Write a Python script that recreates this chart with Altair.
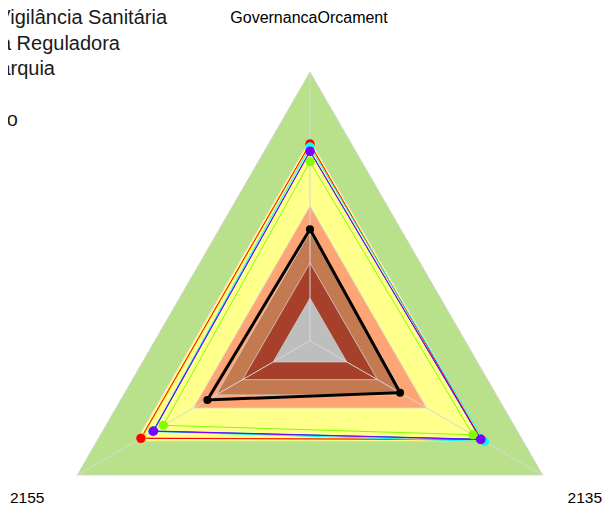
import altair as alt
import pandas as pd
import numpy as np

# ---------------- data ----------------
axis_labels = ["GovernancaOrcament", "2135", "2155"]
axis_angles = [90, -30, 210]          # degrees, top / bottom-right / bottom-left

band_levels = [100, 75, 50, 40.4, 29, 15.8]
band_colors = ["#B9E18C", "#FFFF8C", "#FFA474", "#C47A50", "#A6402B", "#BEBEBE"]

# drawing order (first drawn = bottom)
series_names = ["s_orange", "s_red", "s_green", "s_cyan", "s_blue", "s_purple"]
series_colors = ["#FFBF00", "#FF0000", "#80FF00", "#00FFFF", "#0040FF", "#8000FF"]
# values for [GovernancaOrcament, 2135, 2155]
v_gov = [73.0, 73.3, 66.6, 72.1, 70.4, 70.6]
v_2135 = [74.0, 73.5, 70.0, 75.0, 73.3, 73.5]
v_2155 = [72.2, 72.7, 63.0, 67.6, 67.2, 67.4]

ref_name = "Referência"
ref_values = [41.5, 38.7, 44.1]

legend_texts = ["Agência Nacional de Vigilância Sanitária", "Agência Reguladora",
                "Autarquia", "Fundação", "Poder Executivo"]

# ---------------- geometry ----------------
W, H = 595, 498
R_PX = 268.7
CX, CY = 302.0, 332.7
x_dom = [-CX / R_PX * 100, (W - CX) / R_PX * 100]
y_dom = [-(H - CY) / R_PX * 100, CY / R_PX * 100]
xs = alt.Scale(domain=x_dom, nice=False, zero=False)
ys = alt.Scale(domain=y_dom, nice=False, zero=False)
ang = np.radians(axis_angles)
FONT = "Liberation Sans"


def pt(r, a):
    return r * np.cos(a), r * np.sin(a)


def px_to_data(px, py):
    return (px - 8 - CX) / R_PX * 100, (CY - (py - 8)) / R_PX * 100


X = lambda: alt.X("x:Q", scale=xs, axis=None)
Y = lambda: alt.Y("y:Q", scale=ys, axis=None)

layers = []

# background bands (triangles drawn as areas)
for lvl, col in zip(band_levels, band_colors):
    pts = [pt(lvl, a) for a in ang]
    df = pd.DataFrame({"x": [p[0] for p in pts], "y": [p[1] for p in pts]})
    df["y2"] = -lvl / 2
    layers.append(
        alt.Chart(df).mark_area(color=col, orient="vertical", opacity=1).encode(
            x=X(), y=Y(), y2="y2:Q",
        )
    )

# grid triangles
grid_rows = []
for lvl in band_levels:
    for i, a in enumerate(list(ang) + [ang[0]]):
        x, y = pt(lvl, a)
        grid_rows.append({"lvl": lvl, "idx": i, "x": x, "y": y})
grid_df = pd.DataFrame(grid_rows)
layers.append(
    alt.Chart(grid_df).mark_line(color="#D0D0D0", strokeWidth=0.8).encode(
        x=X(), y=Y(), detail="lvl:N", order="idx:Q",
    )
)

# radial axis lines
rad_df = pd.DataFrame({
    "x": [0.0] * 3, "y": [0.0] * 3,
    "x1": [pt(100, a)[0] for a in ang], "y1": [pt(100, a)[1] for a in ang],
})
layers.append(
    alt.Chart(rad_df).mark_rule(color="#D8D8D8", strokeWidth=1).encode(
        x=X(), y=Y(), x2="x1:Q", y2="y1:Q",
    )
)

# series polygons
rows = []
for name, a0, a1, a2 in zip(series_names, v_gov, v_2135, v_2155):
    vals = [a0, a1, a2]
    for i in range(4):
        k = i % 3
        x, y = pt(vals[k], ang[k])
        rows.append({"series": name, "idx": i, "x": x, "y": y})
ser_df = pd.DataFrame(rows)
cscale = alt.Scale(domain=series_names, range=series_colors)

for name in series_names:
    sub = ser_df[ser_df.series == name]
    layers.append(
        alt.Chart(sub).mark_line(strokeWidth=1.0).encode(
            x=X(), y=Y(), order="idx:Q",
            color=alt.Color("series:N", scale=cscale, legend=None),
        )
    )
for name in series_names:
    sub = ser_df[(ser_df.series == name) & (ser_df.idx < 3)]
    layers.append(
        alt.Chart(sub).mark_circle(size=85, opacity=1).encode(
            x=X(), y=Y(),
            color=alt.Color("series:N", scale=cscale, legend=None),
        )
    )

# reference (black) polygon
ref_rows = []
for i in range(4):
    k = i % 3
    x, y = pt(ref_values[k], ang[k])
    ref_rows.append({"idx": i, "x": x, "y": y})
ref_df = pd.DataFrame(ref_rows)
layers.append(
    alt.Chart(ref_df).mark_line(color="black", strokeWidth=3).encode(
        x=X(), y=Y(), order="idx:Q",
    )
)
layers.append(
    alt.Chart(ref_df[ref_df.idx < 3]).mark_circle(size=65, color="black", opacity=1).encode(
        x=X(), y=Y(),
    )
)

# axis labels
lab_px = [(309, 18), (602, 498), (10, 498)]
lab_align = ["center", "right", "left"]
lab_size = [16, 15.5, 15.5]
for lab, (lx, ly), al, fs in zip(axis_labels, lab_px, lab_align, lab_size):
    dx, dy = px_to_data(lx, ly)
    layers.append(
        alt.Chart(pd.DataFrame({"label": [lab], "x": [dx], "y": [dy]})).mark_text(
            fontSize=fs, font=FONT, color="black", align=al, baseline="middle"
        ).encode(x=X(), y=Y(), text="label:N")
    )

# legend (partly outside the view on the left, as in the original)
leg_end_px = [167, 120, 55, -30, 18]
leg_y_px = [18, 44, 69, 95, 120]
leg_pos = [px_to_data(a, b) for a, b in zip(leg_end_px, leg_y_px)]
leg_df = pd.DataFrame({
    "label": legend_texts,
    "x": [p[0] for p in leg_pos],
    "y": [p[1] for p in leg_pos],
})
layers.append(
    alt.Chart(leg_df).mark_text(fontSize=20, font=FONT, color="#1A1A1A",
                                align="right", baseline="middle").encode(
        x=X(), y=Y(), text="label:N",
    )
)

chart = alt.layer(*layers).properties(
    width=W, height=H, padding=0,
    autosize=alt.AutoSizeParams(type="none"),
).configure_view(stroke=None)

chart.save("out.html", embed_options={"renderer": "svg", "actions": False})
